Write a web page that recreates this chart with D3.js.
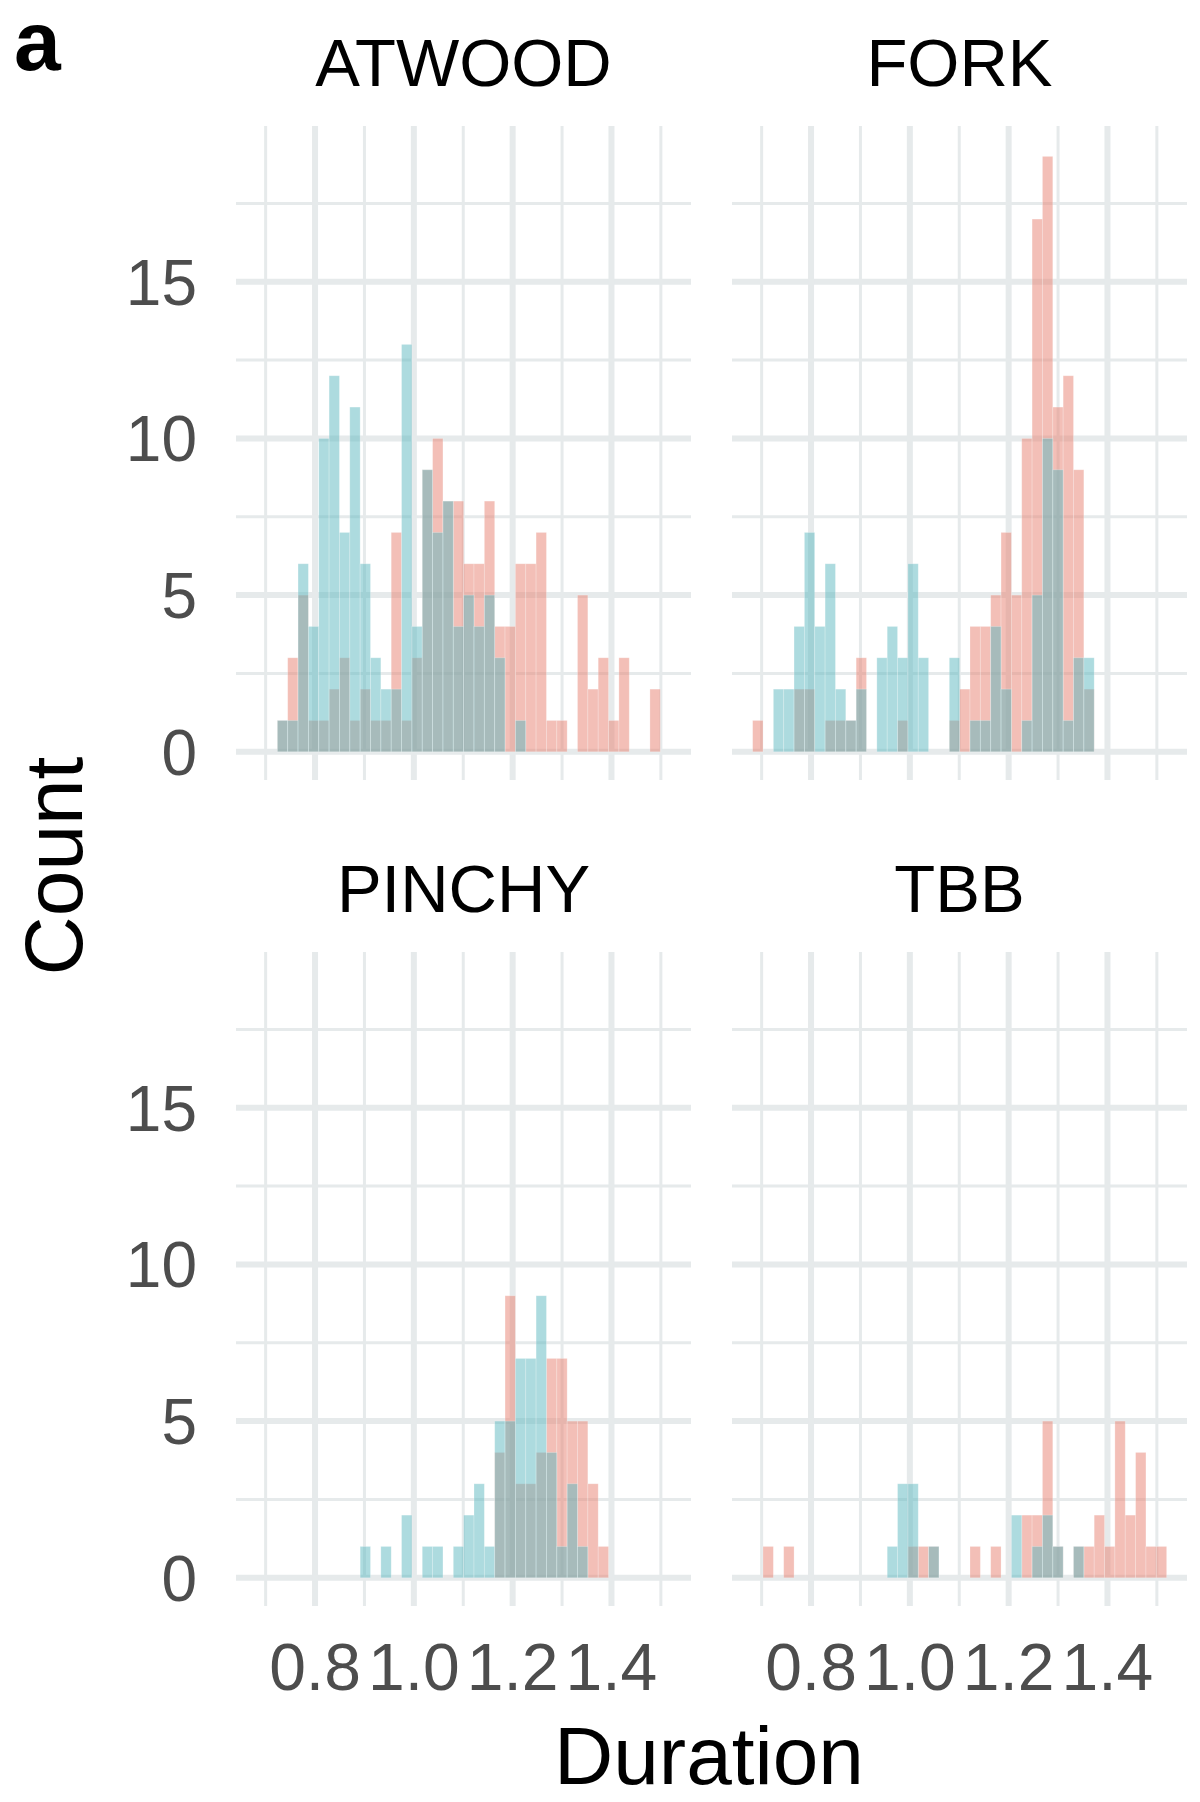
<!DOCTYPE html>
<html><head><meta charset="utf-8">
<script src="https://cdn.jsdelivr.net/npm/d3@7"></script>
<style>body{margin:0;background:#fff}</style></head>
<body><svg id="c" width="1200" height="1802"></svg>
<script>
const facets = ["ATWOOD","FORK","PINCHY","TBB"];
const binStart = 0.6818, binWidth = 0.02095;
const xTicks = [0.8,1.0,1.2,1.4];
const yTicks = [0,5,10,15];
const atwoodRed  = [0,0,1,3,5,1,1,2,3,1,2,1,1,7,1,3,9,10,8,8,6,6,8,4,4,6,6,7,1,1,0,5,2,3,1,3,0,0,2];
const atwoodBlue = [0,0,1,1,6,4,10,12,7,11,6,3,2,2,13,4,9,7,8,4,5,4,5,3,0,1];
const forkRed  = [1,0,0,0,2,2,0,1,1,1,3,0,0,0,1,0,0,0,0,1,2,4,4,5,7,5,10,17,19,11,12,9,2];
const forkBlue = [0,0,2,2,4,7,4,6,2,1,2,0,3,4,3,6,3,0,0,3,0,1,1,4,2,0,1,5,10,9,1,3,3];
const pinchyRed  = [0,0,0,0,0,0,0,0,0,0,0,0,0,0,0,0,0,0,0,0,0,0,0,4,9,3,3,4,7,7,5,5,3,1];
const pinchyBlue = [0,0,0,0,0,0,0,0,0,0,1,0,1,0,2,0,1,1,0,1,2,3,1,5,5,7,7,9,4,1,3,1];
const tbbRed  = [0,1,0,1,0,0,0,0,0,0,0,0,0,0,0,1,1,1,0,0,0,1,0,1,0,0,2,2,5,1,0,1,1,2,1,5,2,4,1,1];
const tbbBlue = [0,0,0,0,0,0,0,0,0,0,0,0,0,1,3,3,0,1,0,0,0,0,0,0,0,2,0,1,2,1,0,1];
const series = {ATWOOD:[atwoodRed,atwoodBlue],FORK:[forkRed,forkBlue],PINCHY:[pinchyRed,pinchyBlue],TBB:[tbbRed,tbbBlue]};
const colors = ["#e8806f","#5cb8c0"];

const svg = d3.select("#c");
const font = "'Liberation Sans', Arial, sans-serif";
const panels = [
  {x0:236,x1:691,y0:126,y1:780},{x0:732,x1:1187,y0:126,y1:780},
  {x0:236,x1:691,y0:952,y1:1606},{x0:732,x1:1187,y0:952,y1:1606}];
facets.forEach((f,i)=>{
  const p = panels[i];
  const x = d3.scaleLinear().domain([0.640,1.561]).range([p.x0,p.x1]);
  const y = d3.scaleLinear().domain([-0.9,19.97]).range([p.y1,p.y0]);
  const g = svg.append("g");
  [2.5,7.5,12.5,17.5].forEach(v=>g.append("line").attr("x1",p.x0).attr("x2",p.x1).attr("y1",y(v)).attr("y2",y(v)).attr("stroke","#e6eaeb").attr("stroke-width",3));
  [0.7,0.9,1.1,1.3,1.5].forEach(v=>g.append("line").attr("y1",p.y0).attr("y2",p.y1).attr("x1",x(v)).attr("x2",x(v)).attr("stroke","#e6eaeb").attr("stroke-width",3));
  yTicks.forEach(v=>g.append("line").attr("x1",p.x0).attr("x2",p.x1).attr("y1",y(v)).attr("y2",y(v)).attr("stroke","#e6eaeb").attr("stroke-width",6));
  xTicks.forEach(v=>g.append("line").attr("y1",p.y0).attr("y2",p.y1).attr("x1",x(v)).attr("x2",x(v)).attr("stroke","#e6eaeb").attr("stroke-width",6));
  series[f].forEach((arr,s)=>{
    g.selectAll(null).data(arr.map((v,k)=>({v,k})).filter(d=>d.v>0)).enter().append("rect")
      .attr("x",d=>x(binStart+d.k*binWidth)).attr("width",d=>x(binStart+(d.k+1)*binWidth)-x(binStart+d.k*binWidth))
      .attr("y",d=>y(d.v)).attr("height",d=>y(0)-y(d.v))
      .attr("fill",colors[s]).attr("fill-opacity",0.5).attr("stroke","#fff").attr("stroke-opacity",0.3).attr("stroke-width",0.8);
  });
  g.append("text").attr("x",(p.x0+p.x1)/2).attr("y",p.y0-40).attr("text-anchor","middle")
    .attr("font-family",font).attr("font-size",67).attr("fill","#000").text(f);
  if(i%2===0) yTicks.forEach(v=>g.append("text").attr("x",197).attr("y",y(v)).attr("dy","0.36em").attr("text-anchor","end")
    .attr("font-family",font).attr("font-size",64).attr("fill","#4d4d4d").text(v));
  if(i>=2) xTicks.forEach(v=>g.append("text").attr("x",x(v)).attr("y",1690).attr("text-anchor","middle")
    .attr("font-family",font).attr("font-size",66).attr("fill","#4d4d4d").text(d3.format(".1f")(v)));
});
svg.append("text").attr("x",709).attr("y",1784).attr("text-anchor","middle").attr("font-family",font).attr("font-size",82).text("Duration");
svg.append("text").attr("transform","translate(82,866) rotate(-90)").attr("text-anchor","middle").attr("font-family",font).attr("font-size",82).text("Count");
svg.append("text").attr("x",14).attr("y",70).attr("font-family",font).attr("font-weight","bold").attr("font-size",84).text("a");
</script></body></html>
